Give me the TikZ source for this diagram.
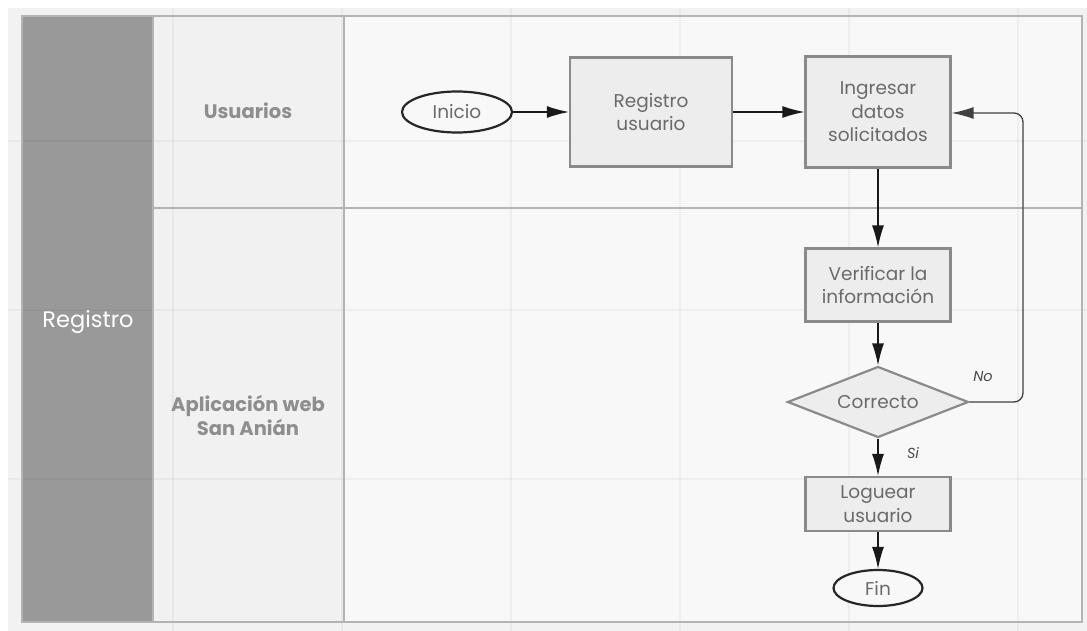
\documentclass[tikz,border=0pt]{standalone}
\usepackage{fontspec}
\setmainfont{Poppins}
\usetikzlibrary{arrows.meta,shapes.geometric}
\definecolor{pagebg}{HTML}{F2F2F2}
\definecolor{lanebg}{HTML}{F8F8F8}
\definecolor{labelbg}{HTML}{F1F1F1}
\definecolor{headbg}{HTML}{999999}
\definecolor{poolline}{HTML}{B4B4B4}
\definecolor{boxfill}{HTML}{EDEDED}
\definecolor{boxline}{HTML}{8A8A8A}
\definecolor{boxtext}{HTML}{6A6A6A}
\definecolor{lanetext}{HTML}{8E8E8E}
\tikzset{
  boxfont/.style={font=\fontsize{18.5}{23.5}\selectfont},
  procbox/.style={draw=boxline, line width=2.2pt, fill=boxfill, text=boxtext,
    align=center, inner sep=0pt, boxfont},
  terminal/.style={ellipse, draw=black!85, line width=2.2pt, fill=lanebg, text=boxtext,
    inner sep=0pt, boxfont},
  decision/.style={diamond, draw=boxline, line width=2.2pt, fill=boxfill, text=boxtext,
    inner sep=0pt, aspect=2.5, boxfont},
  flow/.style={draw=black!90, line width=1.3pt, -{Latex[length=22pt,width=12pt]}},
  lanelabel/.style={text=lanetext, align=center, font=\bfseries\fontsize{19.5}{24}\selectfont},
  branchlabel/.style={text=black!70, font=\itshape\fontsize{14.5}{16}\selectfont},
}
\begin{document}
\begin{tikzpicture}[x=1pt,y=-1pt]
  % page and canvas
  \fill[white] (0,0) rectangle (1087,631);
  \useasboundingbox (0,0) rectangle (1087,631);
  \fill[pagebg] (8,8) rectangle (1087,631);

  % pool: header column, label column, lanes
  \fill[headbg] (22,16) rectangle (153,622);
  \fill[labelbg] (153,16) rectangle (344,622);
  \fill[lanebg] (344,16) rectangle (1082,622);

  % background grid
  \foreach \gx in {173,342,511,680,849,1018}
    \draw[black, opacity=0.04, line width=1.2pt] (\gx,8) -- (\gx,631);
  \foreach \gy in {141,310,479}
    \draw[black, opacity=0.04, line width=1.2pt] (8,\gy) -- (1087,\gy);

  % pool borders
  \draw[poolline, line width=1.2pt] (22,16) rectangle (1082,622);
  \draw[poolline, line width=1.2pt] (153,16) -- (153,622);
  \draw[poolline, line width=1.5pt] (344,16) -- (344,622);
  \draw[poolline, line width=1.2pt] (153,208) -- (1082,208);

  % titles
  \node[text=white, font=\fontsize{22.5}{26}\selectfont] (pooltitle) at (88,322) {Registro};
  \node[lanelabel] (laneA) at (248,111) {Usuarios};
  \node[lanelabel] (laneB) at (248,415) {Aplicación web\\San Anián};

  % flow nodes
  \node[terminal, minimum width=110pt, minimum height=41pt] (inicio) at (457,112) {Inicio};
  \node[procbox, minimum width=162pt, minimum height=109pt] (registro) at (651,112) {Registro\\usuario};
  \node[procbox, minimum width=145pt, minimum height=111pt] (ingresar) at (878,112) {Ingresar\\datos\\solicitados};
  \node[procbox, minimum width=145pt, minimum height=73pt] (verificar) at (878,285) {Verificar la\\información};
  \node[decision, minimum width=181pt, minimum height=71pt] (correcto) at (878,402) {Correcto};
  \node[procbox, minimum width=145pt, minimum height=54pt] (loguear) at (878,504) {Loguear\\usuario};
  \node[terminal, minimum width=89pt, minimum height=36pt] (fin) at (878,588) {Fin};

  % connectors
  \draw[flow] (inicio) -- (registro);
  \draw[flow] (registro) -- (ingresar);
  \draw[flow] (ingresar) -- (verificar);
  \draw[flow] (verificar) -- (correcto);
  \draw[flow] (correcto) -- (loguear);
  \draw[flow] (loguear) -- (fin);
  \coordinate (loopbottom) at (1023,402);
  \coordinate (looptop) at (1023,113);
  \draw[flow, draw=black!75, rounded corners=9pt]
    (correcto.east) -- (loopbottom) -- (looptop) -- (ingresar.east |- looptop);

  % branch labels
  \node[branchlabel] (nolabel) at (983,377) {No};
  \node[branchlabel] (silabel) at (913,453) {Si};
\end{tikzpicture}
\end{document}
